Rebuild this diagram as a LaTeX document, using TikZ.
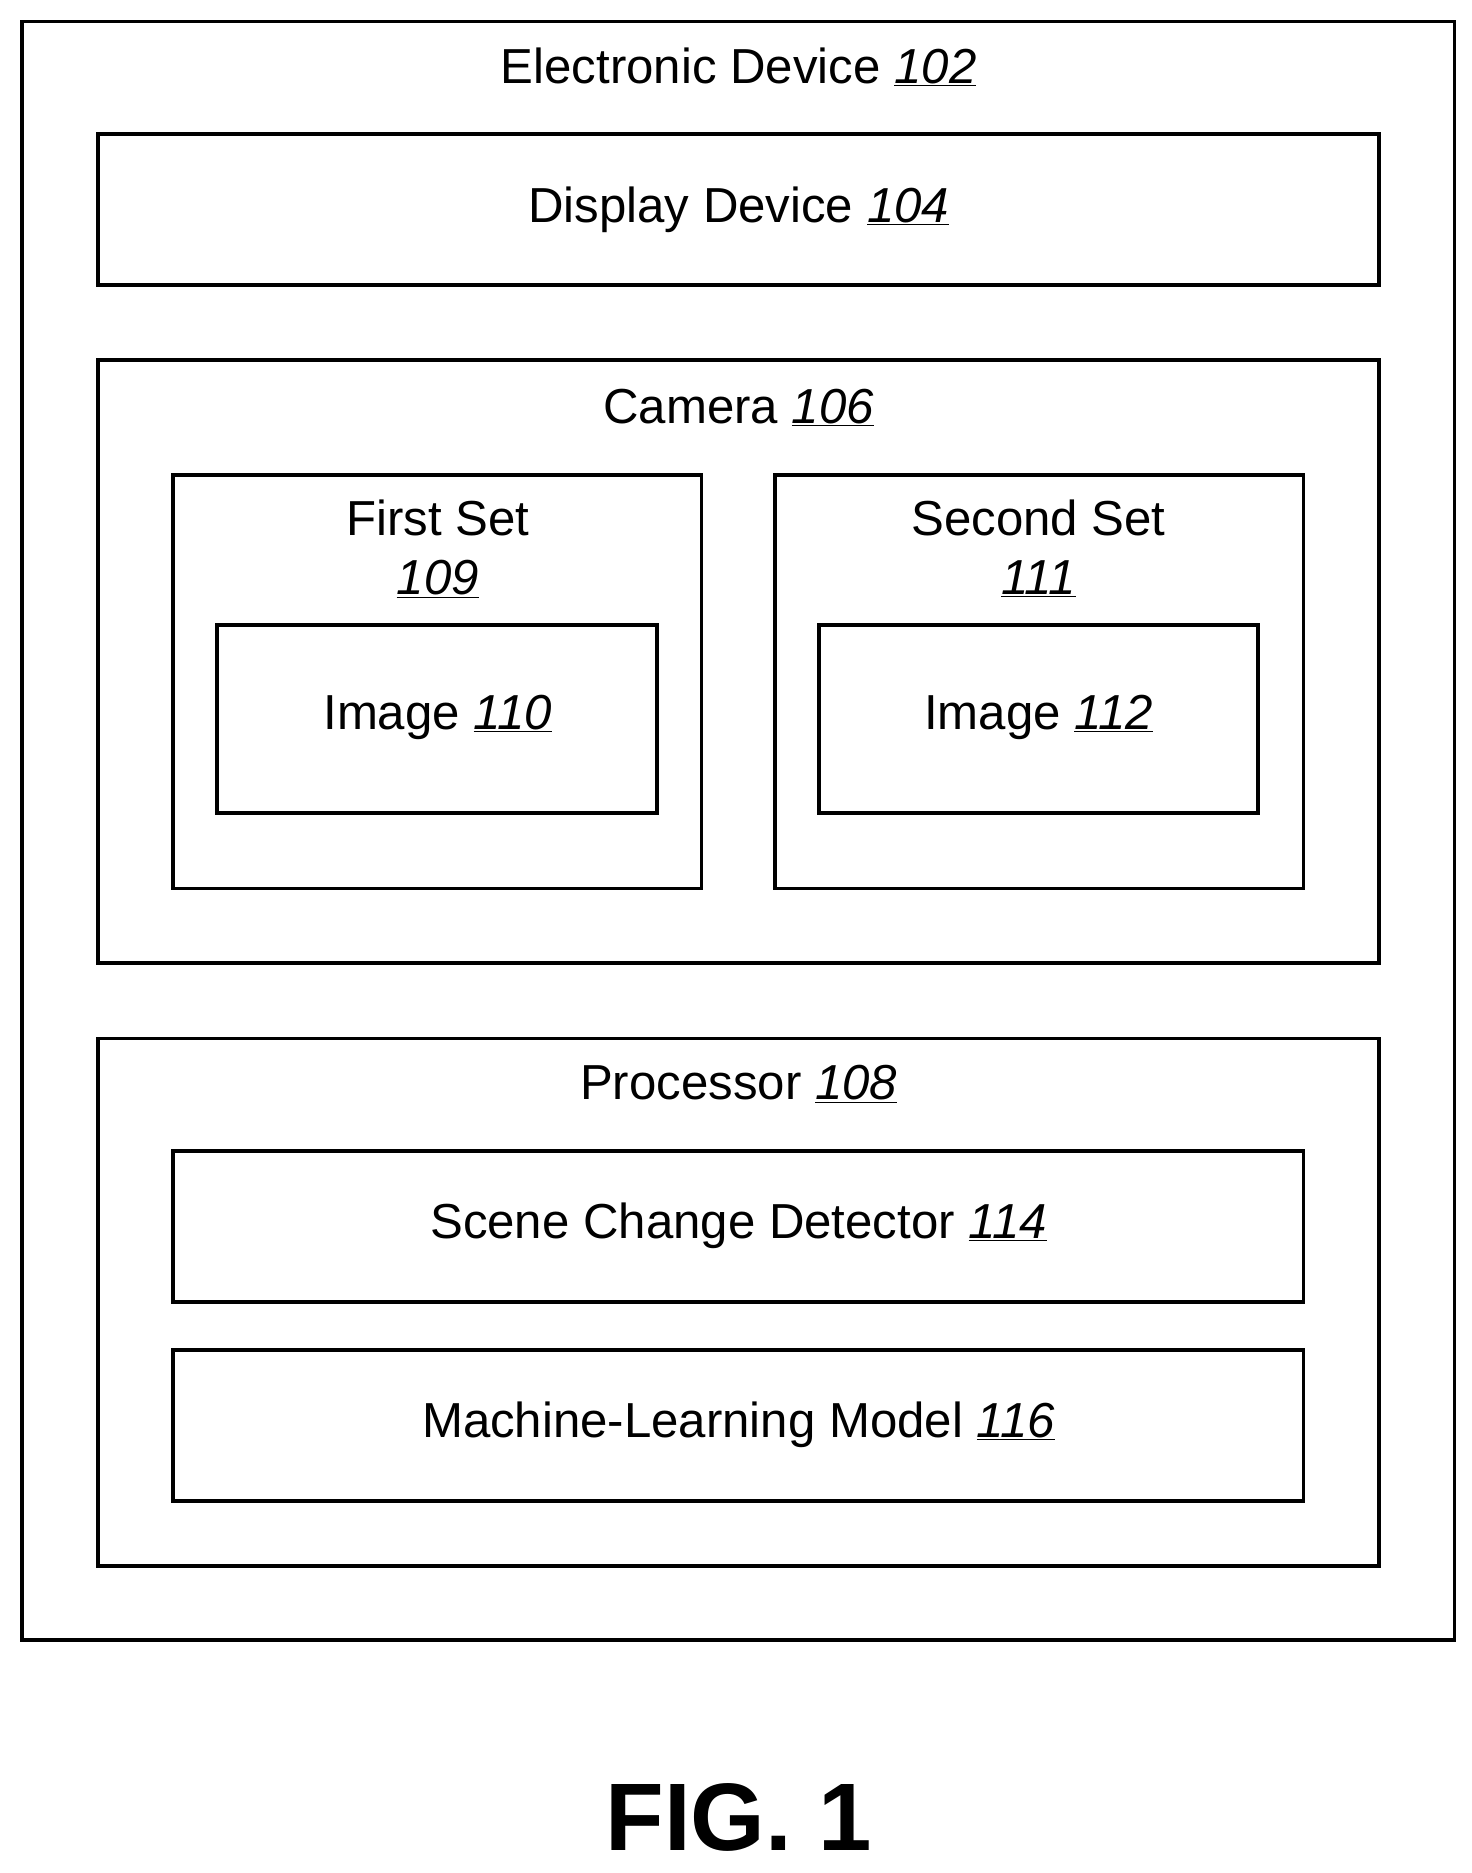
\documentclass[tikz,border=0pt]{standalone}
\usepackage{fontspec}
\setmainfont{Liberation Sans}
\begin{document}
\begin{tikzpicture}[x=1pt,y=-1pt,
  box/.style={draw,line width=3.2pt,inner sep=0pt},
  lbl/.style={font=\fontsize{41}{48}\selectfont,inner sep=0pt,anchor=center}]
\newcommand{\rn}[1]{\underline{\textit{#1}}}
\useasboundingbox (0,0) rectangle (1227,1562);
\node[box,minimum width=1195pt,minimum height=1350pt] (outer) at (615.5,693) {};
\node[box,minimum width=1068pt,minimum height=126pt] (disp) at (616,175) {};
\node[box,minimum width=1068pt,minimum height=503pt] (cam) at (616,551.5) {};
\node[box,minimum width=441pt,minimum height=345pt] (set1) at (364.5,568.5) {};
\node[box,minimum width=367pt,minimum height=157pt] (img1) at (364.5,599.5) {};
\node[box,minimum width=441pt,minimum height=345pt] (set2) at (866.5,568.5) {};
\node[box,minimum width=366pt,minimum height=157pt] (img2) at (866,599.5) {};
\node[box,minimum width=1068pt,minimum height=440pt] (proc) at (616,1086) {};
\node[box,minimum width=943pt,minimum height=126pt] (scd) at (615.5,1023) {};
\node[box,minimum width=943pt,minimum height=126pt] (ml) at (615.5,1189) {};
\node[lbl] (t102) at (616,56) {Electronic Device \rn{102}};
\node[lbl] (t104) at (616,175) {Display Device \rn{104}};
\node[lbl] (t106) at (616,340) {Camera \rn{106}};
\node[lbl] (t109a) at (365,432) {First Set};
\node[lbl] (t109b) at (365,483) {\rn{109}};
\node[lbl] (t111a) at (866,432) {Second Set};
\node[lbl] (t111b) at (866,483) {\rn{111}};
\node[lbl] (t110) at (365,598) {Image \rn{110}};
\node[lbl] (t112) at (866,598) {Image \rn{112}};
\node[lbl] (t108) at (616,904) {Processor \rn{108}};
\node[lbl] (t114) at (616,1022) {Scene Change Detector \rn{114}};
\node[lbl] (t116) at (616,1188) {Machine-Learning Model \rn{116}};
\node[inner sep=0pt,font=\fontsize{80}{88}\selectfont\bfseries] (fig) at (616,1516) {FIG. 1};
\end{tikzpicture}
\end{document}
